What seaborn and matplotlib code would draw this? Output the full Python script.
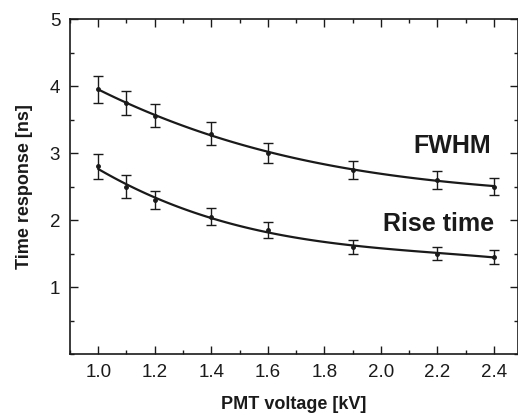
import numpy as np
import pandas as pd
import matplotlib.pyplot as plt
import seaborn as sns
from matplotlib.ticker import MultipleLocator

sns.set_theme(style="ticks")
plt.rcParams["font.family"] = ["Liberation Sans", "DejaVu Sans"]

# ── Data ────────────────────────────────────────────────────────
voltage = [1.0, 1.1, 1.2, 1.4, 1.6, 1.9, 2.2, 2.4]
fwhm = [3.95, 3.75, 3.56, 3.29, 3.00, 2.75, 2.60, 2.50]
fwhm_err = [0.20, 0.18, 0.17, 0.17, 0.15, 0.13, 0.13, 0.13]
rise = [2.80, 2.50, 2.30, 2.05, 1.85, 1.60, 1.50, 1.45]
rise_err = [0.18, 0.17, 0.13, 0.13, 0.12, 0.10, 0.10, 0.10]

df = pd.DataFrame({"voltage": voltage, "fwhm": fwhm, "rise": rise})

fig = plt.figure(figsize=(5.18, 4.15), dpi=100)
ax = fig.add_axes([0.135, 0.147, 0.865, 0.807])

for col, err in [("fwhm", fwhm_err), ("rise", rise_err)]:
    sns.regplot(data=df, x="voltage", y=col, order=3, ci=None, scatter=False,
                color="#1a1a1a", line_kws={"lw": 1.6}, ax=ax)
    ax.errorbar(df["voltage"], df[col], yerr=err, fmt="o", ms=2.5,
                color="#1a1a1a", ecolor="#1a1a1a", elinewidth=1.0,
                capsize=3.5, capthick=1.0)

ax.text(2.39, 3.1, "FWHM", ha="right", va="center", fontsize=18,
        fontweight="bold", color="#1a1a1a")
ax.text(2.40, 1.94, "Rise time", ha="right", va="center", fontsize=18,
        fontweight="bold", color="#1a1a1a")

ax.set_xlim(0.9, 2.485)
ax.set_ylim(0, 5)
ax.xaxis.set_major_locator(MultipleLocator(0.2))
ax.xaxis.set_minor_locator(MultipleLocator(0.1))
ax.yaxis.set_major_locator(MultipleLocator(1))
ax.yaxis.set_minor_locator(MultipleLocator(0.5))
ax.set_yticks([1, 2, 3, 4, 5])
ax.set_xticks([1.0, 1.2, 1.4, 1.6, 1.8, 2.0, 2.2, 2.4])
ax.set_xticklabels([f"{v:.1f}" for v in ax.get_xticks()])

ax.tick_params(which="both", direction="in", top=True, right=True,
               labelsize=13.5, colors="#1a1a1a", width=1.0)
ax.tick_params(which="major", length=6, pad=7)
ax.tick_params(which="minor", length=3)
for s in ax.spines.values():
    s.set_linewidth(1.2)
    s.set_color("#1a1a1a")

ax.set_xlabel("PMT voltage [kV]", fontsize=13, fontweight="bold",
              color="#1a1a1a", labelpad=11)
ax.set_ylabel("Time response [ns]", fontsize=13, fontweight="bold",
              color="#1a1a1a", labelpad=12)

fig.savefig("out.png", dpi=100)
